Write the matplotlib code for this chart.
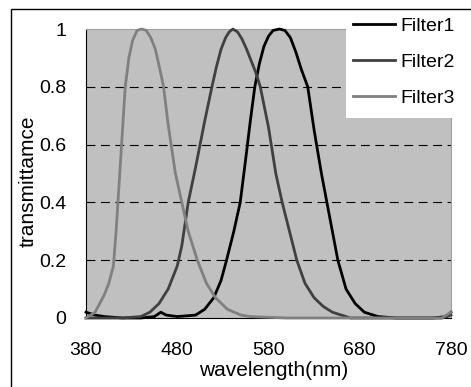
import matplotlib
matplotlib.use("Agg")
import matplotlib.pyplot as plt
from matplotlib.patches import Rectangle

plt.rcParams['font.family'] = ['Liberation Sans', 'DejaVu Sans']

# Filter1 (black)
wl1 = [380, 390, 400, 420, 440, 455, 462, 468, 480, 500, 510, 520, 528, 534, 542,
       549, 555, 560, 565, 570, 575, 580, 585, 592, 598, 604, 610, 616, 623, 630,
       638, 644, 650, 656, 665, 675, 685, 700, 720, 760, 775, 780]
t1 = [0.02, 0.01, 0.005, 0.0, 0.0, 0.005, 0.02, 0.01, 0.005, 0.01, 0.03, 0.07, 0.13,
      0.2, 0.3, 0.4, 0.55, 0.68, 0.8, 0.88, 0.94, 0.975, 0.995, 1.0, 0.995, 0.97,
      0.92, 0.86, 0.8, 0.65, 0.5, 0.4, 0.3, 0.2, 0.1, 0.05, 0.02, 0.005, 0.0, 0.0,
      0.005, 0.02]

# Filter2 (dark gray)
wl2 = [380, 400, 420, 440, 450, 460, 470, 480, 485, 492, 500, 510, 518, 523, 528,
       533, 537, 541, 546, 551, 556, 561, 566, 571, 580, 588, 595, 603, 611, 620,
       630, 640, 650, 660, 670, 720, 770, 780]
t2 = [0.0, 0.0, 0.0, 0.005, 0.02, 0.05, 0.1, 0.18, 0.25, 0.4, 0.52, 0.68, 0.8, 0.87,
      0.93, 0.97, 0.99, 1.0, 0.99, 0.965, 0.93, 0.89, 0.85, 0.8, 0.66, 0.5, 0.4,
      0.3, 0.2, 0.12, 0.07, 0.04, 0.02, 0.01, 0.0, 0.0, 0.0, 0.01]

# Filter3 (light gray)
wl3 = [380, 390, 395, 400, 405, 410, 413, 416, 420, 423, 427, 431, 436, 441, 446,
       451, 456, 461, 465, 470, 478, 485, 492, 502, 512, 522, 535, 550, 560, 600,
       700, 770, 780]
t3 = [0.0, 0.02, 0.05, 0.08, 0.12, 0.18, 0.3, 0.45, 0.65, 0.8, 0.9, 0.96, 0.995, 1.0,
      0.995, 0.97, 0.93, 0.86, 0.8, 0.67, 0.5, 0.4, 0.3, 0.2, 0.12, 0.07, 0.03,
      0.01, 0.005, 0.0, 0.0, 0.0, 0.02]

xticks = [380, 480, 580, 680, 780]
yticks = [0, 0.2, 0.4, 0.6, 0.8, 1]
ylabels = ['0', '0.2', '0.4', '0.6', '0.8', '1']

W, H = 471, 387
fig = plt.figure(figsize=(W / 100, H / 100), dpi=100)
ax = fig.add_axes([86 / W, 1 - 318 / H, (451 - 86) / W, (318 - 29) / H])
ax.set_facecolor('#c0c0c0')

for y in yticks[1:-1]:
    ax.axhline(y, color='black', lw=0.8, dashes=(8, 5), zorder=1)

ax.plot(wl1, t1, color='black', lw=2.0, label='Filter1', clip_on=False, zorder=3)
ax.plot(wl2, t2, color='#404040', lw=2.0, label='Filter2', clip_on=False, zorder=3)
ax.plot(wl3, t3, color='#808080', lw=2.0, label='Filter3', clip_on=False, zorder=3)

ax.set_xlim(380, 780)
ax.set_ylim(0, 1)
ax.set_xticks(xticks)
ax.set_yticks(yticks)
ax.set_yticklabels(ylabels)
ax.tick_params(axis='both', length=0, labelsize=14)
ax.tick_params(axis='x', pad=17)
ax.tick_params(axis='y', pad=14)
ax.spines['left'].set_color('black')
ax.spines['bottom'].set_color('black')
ax.spines['top'].set_color('#a0a0a0')
ax.spines['right'].set_color('#a0a0a0')

ax.set_xlabel('wavelength(nm)', fontsize=15)
ax.xaxis.label.set_va('center')
ax.xaxis.set_label_coords((274 - 86) / 365, -(370 - 318) / 289)
ax.set_ylabel('transmittamce', fontsize=15)
ax.yaxis.label.set_va('center')
ax.yaxis.set_label_coords((28 - 86) / 365, 1 - (181 - 29) / 289)

# white legend box and outer chart frame
fig.patches.append(Rectangle((346 / W, 1 - 118 / H), 1, 1, transform=fig.transFigure,
                             facecolor='white', edgecolor='none', zorder=4))
fig.patches.append(Rectangle((11 / W, -0.1), 1, 1.1 - 9 / H, transform=fig.transFigure,
                             facecolor='none', edgecolor='black', lw=1, zorder=6))

handles, labels = ax.get_legend_handles_labels()
fig.legend(handles, labels, loc='upper left', bbox_to_anchor=(353 / W, 1 - 17 / H),
           frameon=False, fontsize=14, handlelength=2.16, handletextpad=0.26,
           labelspacing=0.96, borderaxespad=0, borderpad=0)

fig.savefig('out.png', dpi=100)
